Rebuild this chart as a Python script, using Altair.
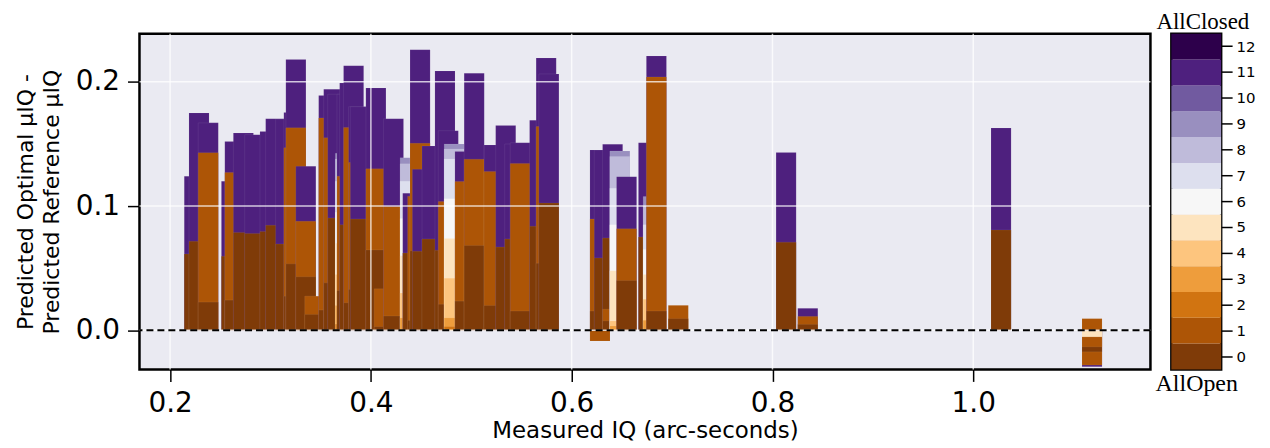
import altair as alt
import pandas as pd

# ---------------- data ----------------
# observations (bar centres in arc-seconds), drawn left to right
iq = [0.2241, 0.2288, 0.2380, 0.2611, 0.2645, 0.2730, 0.2843, 0.2995, 0.3052, 0.3151,
      0.3233, 0.3253, 0.3352, 0.3441, 0.3580, 0.3630, 0.3670, 0.3762, 0.3789, 0.3828,
      0.3878, 0.3895, 0.4050, 0.4133, 0.4225, 0.4417, 0.4466, 0.4490, 0.4513, 0.4609,
      0.4738, 0.4771, 0.4937, 0.5029, 0.5227, 0.5343, 0.5433, 0.5488, 0.5681, 0.5746,
      0.5773, 0.6282, 0.6282, 0.6325, 0.6408, 0.6408, 0.6547, 0.6765, 0.6844, 0.7062,
      0.8136, 0.8352, 1.0277, 1.1183, 1.1183, 1.1183]
# configuration 11 (purple)
cfg11 = [0.124, 0.175, 0.167, 0.120, 0.152, 0.1588, 0.1575, 0.160, 0.1703, 0.170,
         0.1754, 0.218, 0.132, None, 0.189, 0.194, 0.190, 0.190, 0.199, 0.213,
         0.180, 0.180, 0.1951, None, 0.1703, 0.1104, None, 0.2259, 0.1296, 0.1484,
         0.2088, 0.1607, 0.144, 0.2069, 0.1492, 0.1649, 0.150, 0.151, 0.169, 0.2192,
         0.2064, 0.1452, None, 0.145, 0.1497, None, 0.1237, 0.151, 0.2208, None,
         0.1431, 0.0177, 0.1628, -0.0293, None, None]
# configuration 1 (orange)
cfg1 = [None, None, 0.143, None, 0.127, None, None, None, None, None,
        0.147, 0.163, 0.0877, 0.0275, 0.171, 0.155, None, 0.124, None, 0.1633,
        0.135, None, 0.130, 0.0334, 0.0997, None, 0.108, 0.1505, None, None,
        None, 0.1037, 0.1198, 0.1377, 0.1278, None, None, 0.1342, None, 0.164,
        None, 0.0896, -0.0086, None, None, 0.017, 0.0818, None, 0.204, 0.0201,
        None, 0.0112, None, -0.028, -0.0133, 0.0094]
# configuration 0 (brown, all open)
cfg0 = [0.0615, 0.0716, 0.0227, 0.0596, 0.0243, 0.0788, 0.078, 0.0796, 0.0845, 0.0695,
        0.0275, 0.0535, 0.0431, 0.0128, 0.0163, 0.0382, 0.0904, 0.032, 0.085, 0.0222,
        0.033, 0.0896, 0.0647, 0.003, 0.0115, 0.0623, 0.008, 0.064, 0.0636, 0.0735,
        0.0644, 0.021, 0.0235, 0.0682, 0.020, 0.067, 0.0735, 0.0155, 0.0837, 0.054,
        0.1024, 0.0155, None, 0.0583, 0.0743, 0.0076, 0.0401, 0.0751, 0.0155, 0.0094,
        0.0709, 0.0048, 0.0808, -0.0173, None, None]
# configuration 5 (pale)
cfg5 = [None] * 54 + [-0.0053, None]

# observations whose configurations spread out (pale gradient columns)
grad_iq = [0.3746, 0.4391, 0.4830, 0.6480, 0.6812]
grad9 = [0.1425, 0.139, 0.150, 0.1444, 0.1077]
grad8 = [0.138, 0.134, 0.146, 0.140, 0.100]
grad7 = [0.120, 0.120, 0.138, 0.1144, 0.085]
grad6 = [0.095, 0.090, 0.106, 0.085, 0.065]
grad5 = [0.070, 0.060, 0.074, 0.048, 0.045]
grad4 = [0.045, 0.030, 0.042, 0.0075, 0.025]
grad3 = [0.020, 0.010, 0.010, 0.0035, 0.008]
grad2 = [0.005, None, 0.003, None, None]

x_ticks = [0.2, 0.4, 0.6, 0.8, 1.0]
y_ticks = [0.0, 0.1, 0.2]
zero_line = [0.0]
config_levels = list(range(13))
palette = ["#7f3b08", "#ad5506", "#d17411", "#ee9d3c", "#fdc57e", "#fde4bf", "#f7f7f7",
           "#dddfee", "#bfbbda", "#998fbf", "#715aa0", "#4e207e", "#2d004b"]

# ---------------- build the drawing table ----------------
obs = []
for i, x in enumerate(iq):
    vals = {11: cfg11[i], 1: cfg1[i], 0: cfg0[i], 5: cfg5[i]}
    obs.append((x, 0, i, vals))
for j, x in enumerate(grad_iq):
    vals = {9: grad9[j], 8: grad8[j], 7: grad7[j], 6: grad6[j], 5: grad5[j],
            4: grad4[j], 3: grad3[j], 2: grad2[j]}
    obs.append((x, 1, j, vals))
obs.sort(key=lambda o: (o[0], o[1], o[2]))

rows = []
for k, (x, _, _, vals) in enumerate(obs):
    items = [(c, v) for c, v in vals.items() if v is not None]
    items.sort(key=lambda cv: -abs(cv[1]))
    for c, v in items:
        rows.append({"obs": k, "iq": x, "cfg": c, "val": v})
df = pd.DataFrame(rows)

color_scale = alt.Scale(domain=config_levels, range=palette)
x_scale = alt.Scale(domain=[0.1695, 1.1765], nice=False, zero=False)
y_scale = alt.Scale(domain=[-0.0315, 0.2387], nice=False, zero=False)

x_axis = alt.Axis(values=x_ticks, format=".1f",
                  title="Measured IQ (arc-seconds)", titleFontSize=23,
                  titleFontWeight="normal", titlePadding=2,
                  labelFontSize=28, labelPadding=8, tickSize=12, tickWidth=1.5,
                  tickColor="black", domain=False, grid=False)
y_axis = alt.Axis(values=y_ticks, format=".1f",
                  title=["Predicted Optimal μIQ -", "Predicted Reference μIQ"],
                  titleFontSize=22, titleFontWeight="normal", titleLineHeight=26,
                  titlePadding=12,
                  labelFontSize=28, labelPadding=8, tickSize=12, tickWidth=1.5,
                  tickColor="black", domain=False, grid=False)

bars = alt.Chart(df).transform_calculate(
    lo="datum.iq - 0.01", hi="datum.iq + 0.01", base="0"
).mark_rect(stroke="white", strokeWidth=0.5, strokeOpacity=0.15).encode(
    x=alt.X("lo:Q", scale=x_scale, axis=x_axis),
    x2="hi:Q",
    y=alt.Y("base:Q", scale=y_scale, axis=y_axis),
    y2="val:Q",
    color=alt.Color("cfg:N", scale=color_scale, legend=None),
)

vgrid = alt.Chart(pd.DataFrame({"lo": x_ticks})).mark_rule(
    color="white", strokeWidth=1.5, opacity=0.75
).encode(x=alt.X("lo:Q", scale=x_scale, axis=x_axis))

hgrid = alt.Chart(pd.DataFrame({"base": y_ticks})).mark_rule(
    color="white", strokeWidth=1.5, opacity=0.75
).encode(y=alt.Y("base:Q", scale=y_scale, axis=y_axis))

zero = alt.Chart(pd.DataFrame({"base": zero_line})).mark_rule(
    color="black", strokeWidth=2, strokeDash=[7, 4]
).encode(y=alt.Y("base:Q", scale=y_scale, axis=y_axis))

main = alt.layer(bars, vgrid, hgrid, zero).properties(width=1015, height=337)

cbar_df = pd.DataFrame({"cfg": config_levels, "col": ["c"] * len(config_levels)})
colorbar = alt.Chart(cbar_df).mark_rect().encode(
    x=alt.X("col:N", scale=alt.Scale(paddingInner=0, paddingOuter=0),
            axis=alt.Axis(title="AllOpen", labels=False, ticks=False, domain=False,
                          titleFont="Liberation Serif", titleFontSize=24,
                          titleFontWeight="normal", titlePadding=2)),
    y=alt.Y("cfg:O", sort="descending", scale=alt.Scale(paddingInner=0, paddingOuter=0),
            axis=alt.Axis(orient="right", title=None, labelFontSize=15, labelPadding=4,
                          tickSize=11, tickWidth=1.5, tickColor="black", domain=False,
                          grid=False)),
    color=alt.Color("cfg:N", scale=color_scale, legend=None),
).properties(width=50, height=337,
             title=alt.TitleParams("AllClosed", font="Liberation Serif", fontSize=23,
                                   fontWeight="normal", anchor="start", frame="group",
                                   dx=-15, offset=0, color="black"))

chart = alt.hconcat(main, colorbar, spacing=0).properties(
    padding={"left": 5, "top": 0, "right": 5, "bottom": 5}
).configure_view(
    stroke="black", strokeWidth=2.5, fill="#eaeaf2"
).configure_axis(
    labelFont="DejaVu Sans", titleFont="DejaVu Sans", labelColor="black", titleColor="black"
)

chart.save("out.html", embed_options={"renderer": "svg", "actions": False})
